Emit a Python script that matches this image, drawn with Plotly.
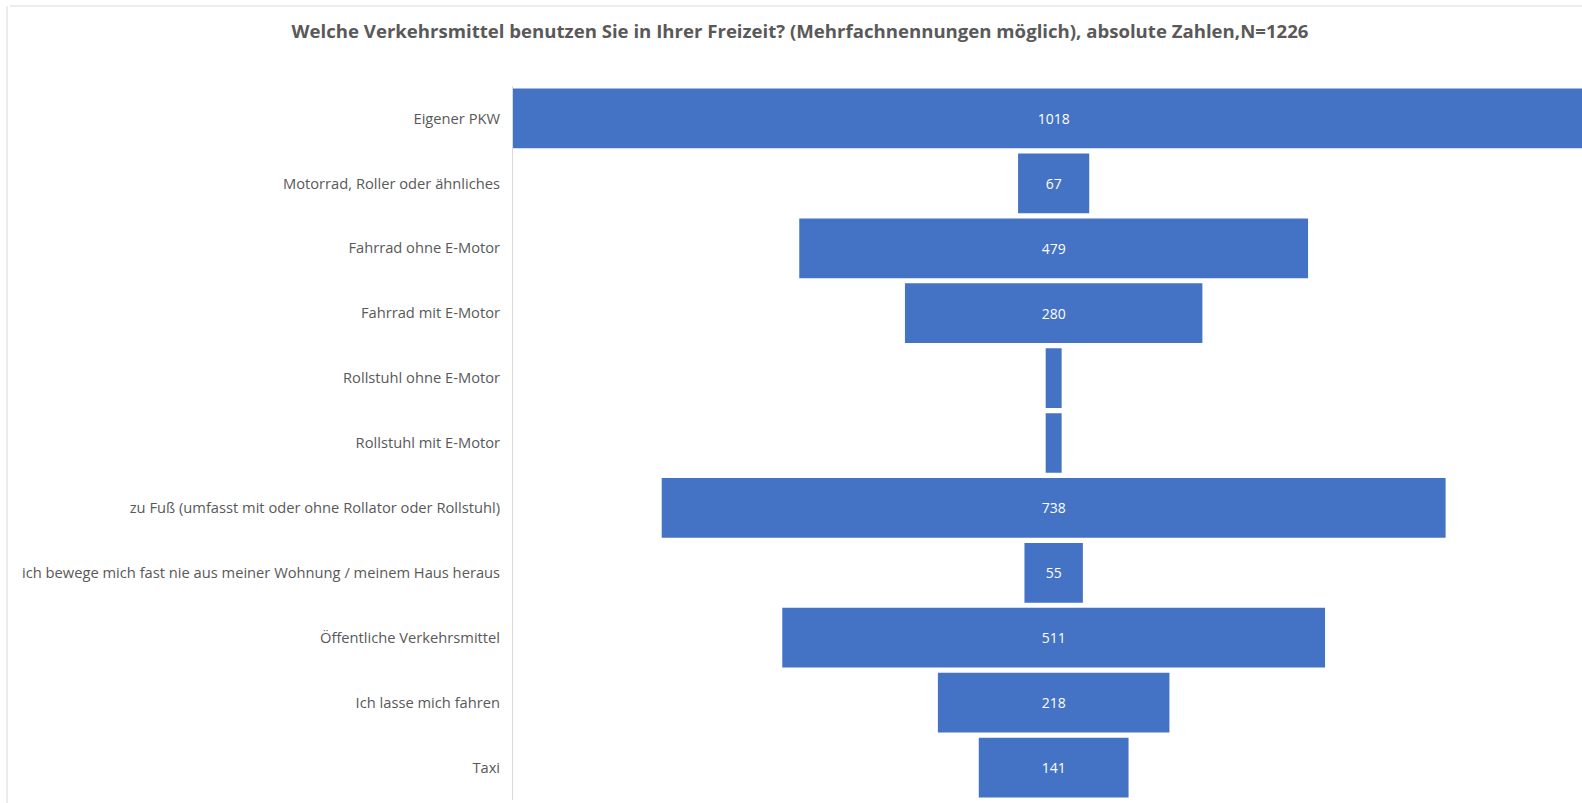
import plotly.graph_objects as go

categories = [
    "Eigener PKW",
    "Motorrad, Roller oder ähnliches",
    "Fahrrad ohne E-Motor",
    "Fahrrad mit E-Motor",
    "Rollstuhl ohne E-Motor",
    "Rollstuhl mit E-Motor",
    "zu Fuß (umfasst mit oder ohne Rollator oder Rollstuhl)",
    "ich bewege mich fast nie aus meiner Wohnung / meinem Haus heraus",
    "Öffentliche Verkehrsmittel",
    "Ich lasse mich fahren",
    "Taxi",
]
values = [1018, 67, 479, 280, 15, 15, 738, 55, 511, 218, 141]
shown_labels = [True, True, True, True, False, False, True, True, True, True, True]

title_text = "Welche Verkehrsmittel benutzen Sie in Ihrer Freizeit? (Mehrfachnennungen möglich), absolute Zahlen,N=1226"

W, H = 1582, 803
bar_color = "#4472C4"
text_gray = "#595959"

labels = [str(v) if s else "" for v, s in zip(values, shown_labels)]
bases = [-v / 2 for v in values]

fig = go.Figure()
fig.add_trace(go.Bar(
    y=categories,
    x=values,
    base=bases,
    orientation="h",
    marker=dict(color=bar_color, line=dict(width=0)),
    text=labels,
    textposition="inside",
    insidetextanchor="middle",
    textangle=0,
    textfont=dict(color="white", size=14, family="Open Sans"),
    cliponaxis=True,
    hoverinfo="skip",
))

fig.update_layout(
    width=W, height=H,
    paper_bgcolor="white",
    plot_bgcolor="white",
    margin=dict(l=513, r=0, t=86, b=3),
    bargap=0.08,
    showlegend=False,
    title=dict(
        text="<b>" + title_text + "</b>",
        x=800 / W, xanchor="center", xref="container",
        y=1 - 31 / H, yanchor="middle", yref="container",
        font=dict(family="Open Sans", size=18.6, color=text_gray),
    ),
    xaxis=dict(
        range=[-509, 497.4],
        showgrid=False, zeroline=False, showticklabels=False,
        showline=False, fixedrange=True,
    ),
    yaxis=dict(
        categoryorder="array", categoryarray=categories,
        autorange="reversed",
        showgrid=False, zeroline=False,
        showline=True, linecolor="#d9d9d9", linewidth=1,
        ticks="", ticklabelstandoff=9,
        tickfont=dict(family="Open Sans", size=14.7, color=text_gray),
    ),
    font=dict(family="Open Sans"),
)

# faint outer chart border (top and left), as in the reference screenshot
fig.add_shape(type="line", xref="paper", yref="paper",
              x0=-503 / (W - 513), x1=1, y0=1 + 80 / (H - 89), y1=1 + 80 / (H - 89),
              line=dict(color="#d9d9d9", width=1))
fig.add_shape(type="line", xref="paper", yref="paper",
              x0=-506 / (W - 513), x1=-506 / (W - 513), y0=-3 / (H - 89), y1=1 + 80 / (H - 89),
              line=dict(color="#d9d9d9", width=1))

fig.write_html("out.html")
